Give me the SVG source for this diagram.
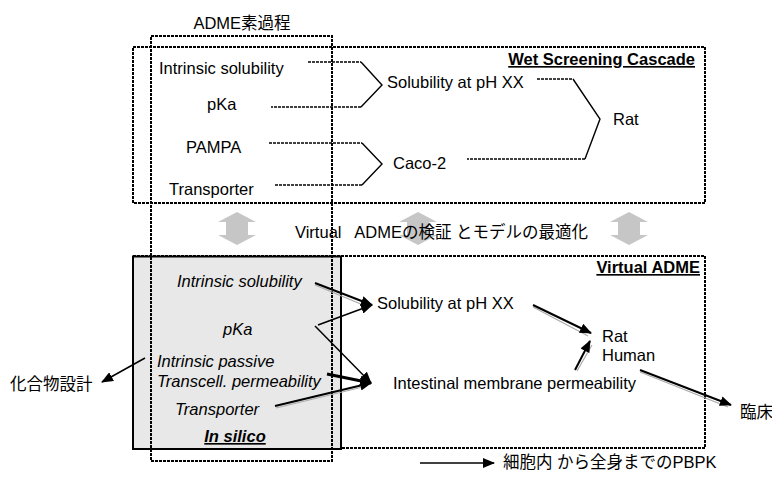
<svg xmlns="http://www.w3.org/2000/svg" width="772" height="477" viewBox="0 0 772 477">
<defs>
<style>
text{font-family:"Liberation Sans","Noto Sans CJK JP",sans-serif;font-size:16.5px;fill:#000}
.it{font-style:italic}
.hd{font-weight:bold;text-decoration:underline}
.box{fill:none;stroke:#000;stroke-width:2;stroke-dasharray:3 1}
.dl{fill:none;stroke:#000;stroke-width:1.6;stroke-dasharray:3 1}
.sl{fill:none;stroke:#000;stroke-width:1.4}
.ar{fill:none;stroke:#000;stroke-width:2;marker-end:url(#ah)}
.th{fill:none;stroke:#000;stroke-width:1.5;marker-end:url(#ah)}
.sh{fill:none;stroke:#aaa;stroke-width:1.2}
.ga{fill:#c6c6c6}
</style>
<marker id="ah" markerWidth="12" markerHeight="10" refX="11" refY="5" orient="auto" markerUnits="userSpaceOnUse"><path d="M0,0 L12,5 L0,10 z" fill="#000"/></marker>
</defs>
<rect width="772" height="477" fill="#fff"/>

<g id="wet-box">
<rect class="box" x="133" y="47" width="572" height="156"/>
<text class="hd" x="695" y="65" text-anchor="end">Wet Screening Cascade</text>
</g>
<g id="virtual-box">
<rect class="box" x="133" y="256" width="572" height="192"/>
<text class="hd" x="700" y="273" text-anchor="end">Virtual ADME</text>
</g>
<g id="insilico-box">
<rect x="133" y="256.5" width="208" height="192.5" fill="#e8e8e8" stroke="#000" stroke-width="2"/>
<text class="hd it" x="235" y="442" text-anchor="middle">In silico</text>
</g>
<g id="adme-box">
<rect class="box" x="151" y="36" width="181" height="425"/>
<text x="242" y="29" text-anchor="middle">ADME素過程</text>
</g>

<g id="wet-nodes">
<g id="w-sol"><text x="159" y="74">Intrinsic solubility</text></g>
<g id="w-pka"><text x="207" y="110">pKa</text></g>
<g id="w-pampa"><text x="186" y="153">PAMPA</text></g>
<g id="w-trans"><text x="169" y="195">Transporter</text></g>
<g id="w-solph"><text x="387" y="88">Solubility at pH XX</text></g>
<g id="w-caco"><text x="393" y="169">Caco-2</text></g>
<g id="w-rat"><text x="613" y="125">Rat</text></g>
</g>

<g id="virtual-nodes">
<g id="v-sol"><text class="it" x="177" y="287">Intrinsic solubility</text></g>
<g id="v-pka"><text class="it" x="223" y="335">pKa</text></g>
<g id="v-perm"><text class="it" x="157" y="367">Intrinsic passive</text><text class="it" x="157" y="387">Transcell. permeability</text></g>
<g id="v-trans"><text class="it" x="175" y="415">Transporter</text></g>
<g id="v-solph"><text x="377" y="309">Solubility at pH XX</text></g>
<g id="v-int"><text x="393" y="389">Intestinal membrane permeability</text></g>
<g id="v-rat"><text x="602" y="342">Rat</text><text x="602" y="361">Human</text></g>
<g id="clinic"><text x="740" y="418">臨床</text></g>
<g id="design"><text x="10" y="390">化合物設計</text></g>
</g>

<g id="validation">
<polygon class="ga" points="237,212 256,222 248,222 248,235 256,235 237,245 218,235 226,235 226,222 218,222"/>
<polygon class="ga" points="418,212 437,222 429,222 429,235 437,235 418,245 399,235 407,235 407,222 399,222"/>
<polygon class="ga" points="629,212 648,222 640,222 640,235 648,235 629,245 610,235 618,235 618,222 610,222"/>
<text x="295" y="238" xml:space="preserve">Virtual   ADMEの検証 とモデルの最適化</text>
</g>

<g id="connectors">
<path class="dl" d="M308,62 H361"/>
<path class="sl" d="M361,62 L382,85 L361,107"/>
<path class="dl" d="M361,107 H271"/>
<path class="dl" d="M269,143 H362"/>
<path class="sl" d="M362,143 L382,164 L362,185"/>
<path class="dl" d="M362,185 H275"/>
<path class="dl" d="M537,79 H573"/>
<path class="sl" d="M573,79 L600,119 L585,159"/>
<path class="dl" d="M585,159 H467"/>

<path class="sh" d="M315,285 L368,307"/>
<path class="ar" d="M315,283 L372,305"/>
<path class="th" d="M318,325 L372,305"/>
<path class="th" d="M315,326 L371,383"/>
<path class="ar" d="M327,374 L371,383" style="stroke-width:3"/>
<path class="sh" d="M276,408 L367,386"/>
<path class="ar" d="M275,406 L371,383"/>
<path class="sh" d="M533,307 L588,336"/>
<path class="ar" d="M533,305 L591,333"/>
<path class="sh" d="M577,371 L592,345"/>
<path class="ar" d="M575,370 L590,341"/>
<path class="sh" d="M640,372 L728,407"/>
<path class="ar" d="M640,370 L731,405"/>
<path class="th" d="M145,358 L102,382"/>
</g>

<g id="legend">
<path class="th" d="M420,463 L494,463"/>
<text x="503" y="468">細胞内 から全身までのPBPK</text>
</g>
</svg>
